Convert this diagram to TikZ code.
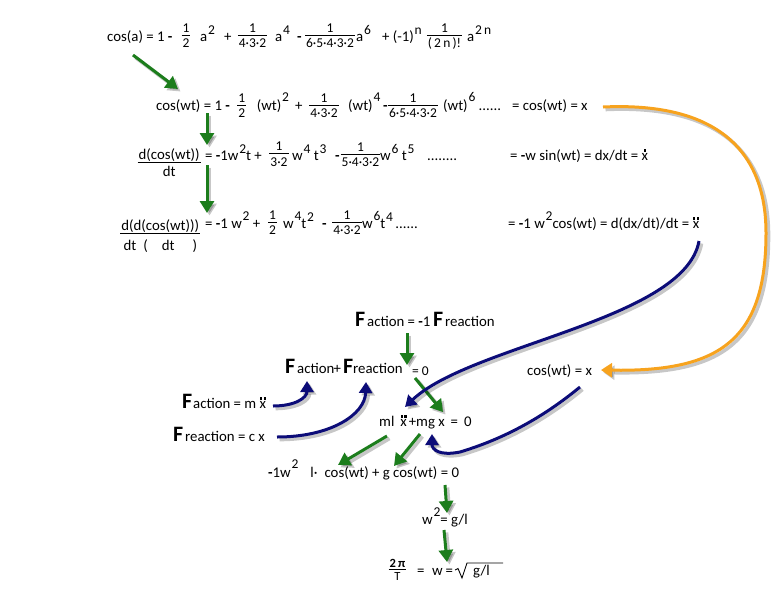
\documentclass[tikz,border=0pt]{standalone}
\usepackage{fontspec}
\setmainfont{Carlito}
\usetikzlibrary{arrows.meta}
\definecolor{agreen}{RGB}{28,125,28}
\definecolor{ablue}{RGB}{12,12,120}
\definecolor{aorange}{RGB}{247,163,30}
\newcommand\fm{\fontsize{14.8}{17}\selectfont}
\newcommand\fsm{\fontsize{13.5}{15}\selectfont}
\newcommand\fxs{\fontsize{12.5}{14}\selectfont}
\newcommand\fbig{\fontsize{22}{24}\selectfont\bfseries}
\newlength\frh
\newcommand\frc[5]{{#1\settoheight\frh{1}%
  \lower\dimexpr\frh+#3+0.5pt\relax\vbox{\offinterlineskip\halign{\hfil\kern1pt##\kern1pt\hfil\cr
   \vphantom{1}\smash{#4}\cr
   \noalign{\kern#2\hrule height1pt\kern#3}
   \vphantom{1}\smash{#5}\cr}}}}
\newcommand\fr[2]{\frc{\fsm}{2.3pt}{3.7pt}{#1}{#2}}
\newcommand\pw[2][7pt]{\kern0.8pt\raisebox{#1}{\fsm #2}}
\newcommand\xd{\leavevmode\rlap{\kern1.9pt\raisebox{8.2pt}{\rule{2.6pt}{2.8pt}}}x}
\newcommand\xdd{\leavevmode\rlap{\kern0.1pt\raisebox{8.2pt}{\rule{2.6pt}{2.8pt}\kern1.2pt\rule{2.6pt}{2.8pt}}}x}
\newcommand\mn{\textbf{-}}
\begin{document}
\begin{tikzpicture}[x=1pt,y=-1pt,
  t/.style={anchor=base west,inner sep=0pt,font=\fm},
  fr/.style={anchor=base,inner sep=0pt,font=\fm},
  bigF/.style={anchor=base west,inner sep=0pt,font=\fbig},
  shd/.style={preaction={draw=black,opacity=0.22,line width=3.6pt,
     transform canvas={shift={(2.5pt,-2.5pt)}}}},
  garr/.style={draw=agreen,line width=3pt,-{Triangle[length=12pt,width=14pt]},shd},
  barr/.style={draw=ablue,line width=3pt,-{Triangle[length=11pt,width=13pt]},shd},
  oarr/.style={draw=aorange,line width=3pt,-{Triangle[length=11pt,width=14pt]},shd}]
\useasboundingbox (0,0) rectangle (781,600);
% Row 1
\node[t] (r1a) at (107,41.5) {cos(a) = 1 \mn};
\node[fr] (r1f1) at (186,35) {\fr{1}{2}};
\node[t] (r1b) at (200,41.5) {a\pw{2}};
\node[t] (r1c) at (224,41.5) {+};
\node[fr] (r1f2) at (252.5,35) {\fr{1}{4·3·2}};
\node[t] (r1d) at (275,41.5) {a\pw{4}};
\node[t] (r1e) at (297,41.5) {\mn};
\node[fr] (r1f3) at (330,35) {\fr{1}{6·5·4·3·2}};
\node[t] (r1g) at (356,41.5) {a\pw{6}};
\node[t] (r1h) at (382,41.5) {+ (-1)\pw{n}};
\node[fr] (r1f4) at (444.5,35) {\fr{1}{(\,2\,n\,)!}};
\node[t] (r1i) at (467,41.5) {a\pw{2\,n}};
% Row 2
\node[t] (r2a) at (156,110) {cos(wt) = 1 \mn};
\node[fr] (r2f1) at (241.7,105) {\fr{1}{2}};
\node[t] (r2b) at (256.7,110) {(wt)\pw[9pt]{2}};
\node[t] (r2c) at (295,110) {+};
\node[fr] (r2f2) at (324,105) {\fr{1}{4·3·2}};
\node[t] (r2d) at (348,110) {(wt)\pw[9pt]{4}};
\node[t] (r2e) at (383,110) {\mn};
\node[fr] (r2f3) at (413,105) {\fr{1}{6·5·4·3·2}};
\node[t] (r2g) at (443,110) {(wt)\pw[9pt]{6} ......};
\node[t] (r2h) at (512,110) {= cos(wt) = x};
% Row 3
\node[fr] (r3f0) at (169.2,162.7) {\frc{\fm}{2.7pt}{4pt}{d(cos(wt))}{dt}};
\node[t] (r3a) at (205,160) {= \mn1w\pw{2}t +};
\node[fr] (r3f1) at (279,153.5) {\fr{1}{3·2}};
\node[t] (r3b) at (292,160) {w\pw{4} t\pw{3}};
\node[t] (r3c) at (335,160) {\mn};
\node[fr] (r3f2) at (360.5,154) {\fr{1}{5·4·3·2}};
\node[t] (r3d) at (380,160) {w\pw{6} t\pw{5}};
\node[t] (r3e) at (427,160) {........};
\node[t] (r3g) at (510,160) {= \mn w sin(wt) = dx/dt = \xd};
% Row 4
\node[fr] (r4f0) at (160.3,233) {\frc{\fm}{2.5pt}{7.2pt}{d(d(cos(wt)))}{dt\hspace{7pt}(\hspace{14pt}dt\hspace{18pt})}};
\node[t] (r4a) at (205,228) {= \mn1 w\pw[8pt]{2} +};
\node[fr] (r4f1) at (272.5,222) {\fr{1}{2}};
\node[t] (r4b) at (283,228) {w\pw[8pt]{4}t\pw[6.5pt]{2}};
\node[t] (r4c) at (322,228) {\mn};
\node[fr] (r4f2) at (347,222) {\fr{1}{4·3·2}};
\node[t] (r4d) at (362,228) {w\pw[8pt]{6}t\pw[7pt]{4}\,......};
\node[t] (r4g) at (508,228) {= \mn1 w\pw[8pt]{2}cos(wt) = d(dx/dt)/dt = \xdd};
% Forces
\node[bigF] (fa1) at (355,326) {F};
\node[t] (fa2) at (367,326) {action = \mn1};
\node[bigF] (fa3) at (433,326) {F};
\node[t] (fa4) at (445,326) {reaction};
\node[bigF] (fb1) at (285,373) {F};
\node[t] (fb2) at (297,373) {action};
\node[t] (fb3) at (333.5,373) {+};
\node[bigF] (fb4) at (343,373) {F};
\node[t] (fb5) at (353,373) {reaction};
\node[t,font=\fsm] (fb6) at (412,375) {= 0};
\node[bigF] (fc1) at (182,408) {F};
\node[t] (fc2) at (193,408) {action = m \xdd};
\node[bigF] (fd1) at (173,441) {F};
\node[t] (fd2) at (185,441) {reaction = c x};
\node[t] (cx) at (527,375) {cos(wt) = x};
\node[t] (e1) at (379,426) {ml\hspace{6pt}\xdd\hspace{2pt}+mg x\hspace{6pt}=\hspace{6pt}0};
\node[t] (e2) at (268,477) {\mn1w\pw[9pt]{2}\hspace{12pt}l·\hspace{7pt}cos(wt) + g cos(wt) = 0};
\node[t] (e3) at (422,524) {w\pw[8pt]{2}= g/l};
\node[fr] (e4f) at (397.5,569) {\frc{\fxs}{1.5pt}{2.5pt}{\textbf{2\,π}}{T}};
\node[t] (e4a) at (417,575) {=\hspace{7.5pt}w\hspace{3pt}=};
\node[t] (e4b) at (473,575) {g/l};
\draw[line width=0.9pt,line join=miter] (455,570) -- (458,568.5) -- (462,578) -- (467,563) -- (503,563);
% green arrows
\coordinate (g1s) at (133,55);  \coordinate (g1e) at (178,89);
\coordinate (g2s) at (207,113); \coordinate (g2e) at (207,145);
\coordinate (g3s) at (207,165); \coordinate (g3e) at (207,213);
\coordinate (g4s) at (407,333); \coordinate (g4e) at (407,365);
\coordinate (g5s) at (415,378); \coordinate (g5e) at (443,412);
\coordinate (g6s) at (387,436); \coordinate (g6e) at (338,465);
\coordinate (g7s) at (420,434); \coordinate (g7e) at (394,466);
\coordinate (g8s) at (445,485); \coordinate (g8e) at (447,513);
\coordinate (g9s) at (444,530); \coordinate (g9e) at (447,562);
\foreach \i in {1,...,9} {\draw[garr] (g\i s) -- (g\i e);}
% blue arrows
\coordinate (bas) at (273,406); \coordinate (bae) at (307,381);
\coordinate (bbs) at (277,437); \coordinate (bbe) at (366,382);
\coordinate (bcs) at (699,241); \coordinate (bce) at (405,407);
\coordinate (bds) at (580,387); \coordinate (bdm) at (460,452); \coordinate (bde) at (432,434);
\draw[barr] (bas) .. controls (295,406) and (307,398) .. (bae);
\draw[barr] (bbs) .. controls (330,437) and (365,415) .. (bbe);
\draw[barr] (bcs) .. controls (685,320) and (470,345) .. (bce);
\draw[barr] (bds) .. controls (540,420) and (500,440) .. (bdm) .. controls (440,456) and (432,450) .. (bde);
% orange arrow
\coordinate (os) at (603,107); \coordinate (om) at (766,233); \coordinate (oe) at (601,370);
\draw[oarr] (os) .. controls (710,102) and (766,145) .. (om) .. controls (766,340) and (720,372) .. (oe);
\end{tikzpicture}
\end{document}
